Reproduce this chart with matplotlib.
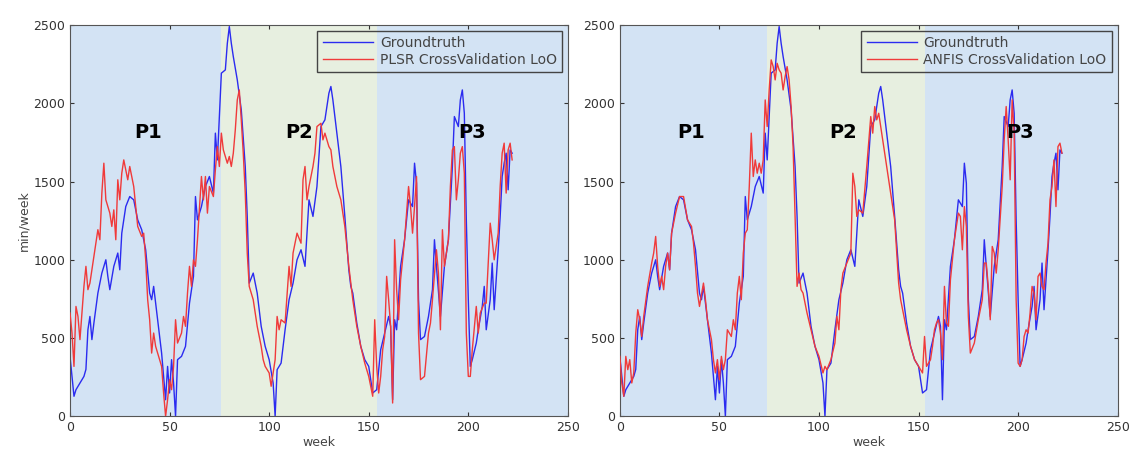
import matplotlib.pyplot as plt

# groundtruth (same in both panels)
gt_week = [0, 2, 3, 5, 7, 8, 9, 10, 11, 12, 14, 16, 18, 19, 20, 22, 24, 25, 26, 28,
           30, 32, 34, 36, 38, 40, 41, 42, 44, 46, 48, 49, 50, 51, 52, 53, 54, 56, 58, 60,
           62, 63, 64, 66, 68, 70, 72, 73, 74, 76, 78, 79, 80, 81, 82, 84, 86, 88, 89, 90,
           92, 94, 96, 98, 100, 102, 103, 104, 106, 108, 110, 112, 114, 116, 118, 120, 122, 124, 126, 128,
           130, 131, 132, 134, 136, 138, 140, 141, 142, 144, 146, 148, 150, 152, 154, 156, 158, 160, 161, 162,
           163, 164, 166, 168, 170, 172, 173, 174, 175, 176, 178, 180, 182, 183, 184, 186, 188, 190, 192, 193,
           195, 196, 197, 198, 199, 200, 201, 202, 204, 205, 207, 208, 209, 211, 212, 213, 215, 216, 217, 218,
           219, 220, 221, 222]
gt_val = [383, 128, 170, 213, 255, 300, 553, 638, 490, 596, 787, 915, 1000, 894, 809, 958, 1043, 936, 1170, 1340,
          1404, 1383, 1255, 1192, 1064, 787, 745, 830, 617, 404, 106, 319, 149, 362, 213, 0, 362, 383, 447, 723,
          894, 1404, 1255, 1340, 1468, 1532, 1426, 1809, 1638, 2192, 2213, 2383, 2490, 2383, 2298, 2149, 1958, 1596, 1277, 851,
          915, 787, 575, 447, 362, 213, 0, 298, 340, 553, 745, 851, 1000, 1064, 958, 1383, 1277, 1468, 1851, 1894,
          2064, 2107, 2021, 1809, 1596, 1277, 936, 830, 787, 596, 447, 362, 319, 149, 170, 425, 532, 638, 575, 106,
          617, 553, 958, 1128, 1383, 1340, 1617, 1489, 745, 490, 510, 638, 809, 1128, 958, 638, 958, 1128, 1596, 1915,
          1851, 2021, 2085, 1936, 1255, 745, 319, 362, 468, 553, 702, 830, 553, 745, 979, 681, 1064, 1277, 1532, 1617,
          1681, 1447, 1702, 1681]

# PLSR cross validation (left)
plsr_week = [0, 1, 2, 3, 4, 5, 7, 8, 9, 10, 12, 14, 15, 16, 17, 18, 20, 21, 22, 23,
             24, 25, 26, 27, 28, 29, 30, 32, 34, 36, 37, 38, 39, 40, 41, 42, 43, 44, 46, 47,
             48, 49, 50, 51, 52, 53, 54, 56, 57, 58, 59, 60, 61, 62, 63, 64, 66, 67, 68, 69,
             70, 72, 73, 74, 75, 76, 77, 78, 79, 80, 81, 82, 83, 84, 85, 86, 87, 88, 89, 90,
             92, 94, 96, 97, 98, 100, 101, 102, 103, 104, 105, 106, 108, 110, 111, 112, 114, 116, 117, 118,
             119, 120, 122, 123, 124, 126, 127, 128, 130, 131, 132, 134, 136, 138, 140, 142, 144, 146, 148, 150,
             152, 153, 154, 155, 156, 157, 158, 159, 160, 161, 162, 163, 164, 165, 166, 168, 170, 171, 172, 173,
             174, 175, 176, 178, 180, 181, 182, 184, 185, 186, 187, 188, 190, 191, 192, 193, 194, 195, 196, 197,
             198, 199, 200, 201, 202, 204, 205, 206, 208, 209, 210, 211, 212, 213, 214, 215, 216, 217, 218, 219,
             220, 221, 222]
plsr_val = [660, 532, 319, 702, 638, 490, 830, 958, 809, 851, 1021, 1192, 1128, 1426, 1617, 1383, 1298, 1213, 1319, 1128,
            1511, 1383, 1553, 1638, 1575, 1511, 1596, 1468, 1213, 1149, 1170, 1000, 745, 617, 404, 532, 447, 404, 319, 149,
            0, 106, 234, 170, 319, 617, 468, 532, 638, 575, 787, 958, 830, 1000, 958, 1128, 1532, 1383, 1532, 1298,
            1468, 1404, 1575, 1723, 1596, 1809, 1702, 1660, 1617, 1660, 1596, 1681, 1830, 2021, 2085, 1894, 1681, 1426, 1043, 830,
            745, 575, 447, 362, 319, 277, 192, 277, 362, 638, 553, 617, 596, 958, 830, 1043, 1170, 1106, 1511, 1596,
            1383, 1468, 1596, 1681, 1851, 1872, 1766, 1809, 1723, 1702, 1596, 1468, 1383, 1213, 958, 745, 575, 447, 340, 255,
            128, 617, 319, 149, 255, 425, 510, 894, 745, 575, 85, 1128, 809, 617, 872, 1128, 1468, 1340, 1170, 1340,
            1532, 532, 234, 255, 532, 596, 745, 1064, 915, 553, 1192, 958, 1128, 1468, 1702, 1723, 1383, 1511, 1681, 1723,
            1553, 532, 255, 255, 425, 702, 532, 660, 723, 723, 979, 1234, 1128, 1000, 1085, 1170, 1468, 1681, 1745, 1426,
            1702, 1745, 1638]

# ANFIS cross validation (right)
anfis_week = [0, 1, 2, 3, 4, 5, 6, 7, 8, 9, 10, 11, 12, 14, 16, 17, 18, 19, 20, 21,
              22, 23, 24, 25, 26, 28, 30, 32, 34, 36, 37, 38, 39, 40, 42, 43, 44, 46, 47, 48,
              49, 50, 51, 52, 53, 54, 56, 57, 58, 59, 60, 61, 62, 63, 64, 65, 66, 67, 68, 69,
              70, 71, 72, 73, 74, 75, 76, 77, 78, 79, 80, 81, 82, 83, 84, 85, 86, 87, 88, 89,
              90, 91, 92, 94, 96, 98, 100, 102, 103, 104, 106, 108, 109, 110, 111, 112, 114, 116, 117, 118,
              119, 120, 122, 124, 126, 127, 128, 129, 130, 132, 134, 136, 138, 140, 141, 142, 144, 146, 148, 150,
              152, 153, 154, 156, 157, 158, 159, 160, 161, 162, 163, 164, 165, 166, 168, 170, 171, 172, 173, 174,
              175, 176, 178, 180, 182, 183, 184, 185, 186, 187, 188, 189, 190, 192, 193, 194, 195, 196, 197, 198,
              199, 200, 201, 202, 203, 204, 205, 206, 207, 208, 209, 210, 211, 212, 213, 214, 215, 216, 217, 218,
              219, 220, 221, 222]
anfis_val = [383, 213, 128, 383, 298, 362, 213, 277, 532, 681, 617, 510, 638, 830, 979, 1043, 1149, 958, 830, 894,
             809, 958, 1043, 936, 1170, 1298, 1404, 1404, 1255, 1213, 1106, 958, 787, 702, 851, 745, 617, 490, 362, 277,
             362, 234, 383, 298, 362, 553, 510, 617, 553, 787, 894, 745, 1043, 1170, 1192, 1468, 1809, 1532, 1638, 1553,
             1617, 1553, 1638, 2021, 1851, 2085, 2277, 2234, 2149, 2255, 2213, 2192, 2085, 2170, 2234, 2149, 1979, 1723, 1277, 830,
             915, 809, 787, 660, 553, 447, 383, 277, 319, 298, 362, 468, 638, 553, 809, 915, 979, 1043, 1553, 1468,
             1277, 1319, 1298, 1596, 1915, 1809, 1979, 1894, 1936, 1766, 1596, 1426, 1255, 851, 745, 681, 553, 447, 362, 319,
             277, 510, 319, 362, 447, 553, 596, 617, 532, 362, 830, 596, 575, 872, 1128, 1298, 1277, 1064, 1340, 1213,
             638, 404, 468, 617, 745, 979, 979, 830, 617, 1085, 1043, 915, 1064, 1468, 1766, 1979, 1766, 1511, 2021, 1809,
             745, 340, 319, 362, 510, 553, 532, 660, 830, 787, 617, 894, 915, 830, 809, 979, 1106, 1383, 1468, 1638,
             1340, 1723, 1745, 1681]

panels = [
    dict(pred_week=plsr_week, pred_val=plsr_val, label='PLSR CrossValidation LoO',
         p2=(76, 154), tags=[(39, 'P1'), (115, 'P2'), (202, 'P3')], left=0.062),
    dict(pred_week=anfis_week, pred_val=anfis_val, label='ANFIS CrossValidation LoO',
         p2=(74, 153), tags=[(36, 'P1'), (112, 'P2'), (201, 'P3')], left=0.549),
]

blue_bg = '#d3e3f4'
green_bg = '#e7efe0'

fig = plt.figure(figsize=(11.29, 4.54), dpi=100)
for i, p in enumerate(panels):
    ax = fig.add_axes([p['left'], 0.083, 0.441, 0.862])
    ax.axvspan(0, p['p2'][0], color=blue_bg, lw=0, zorder=0)
    ax.axvspan(p['p2'][0], p['p2'][1], color=green_bg, lw=0, zorder=0)
    ax.axvspan(p['p2'][1], 250, color=blue_bg, lw=0, zorder=0)
    ax.plot(gt_week, gt_val, color='#2b2bf0', lw=1.0, label='Groundtruth', zorder=2)
    ax.plot(p['pred_week'], p['pred_val'], color='#f03a3a', lw=1.0, label=p['label'], zorder=3)
    for wk, t in p['tags']:
        ax.text(wk, 1810, t, fontsize=14, fontweight='bold', ha='center', va='center', zorder=4)
    ax.set_xlim(0, 250)
    ax.set_ylim(0, 2500)
    ax.set_xticks([0, 50, 100, 150, 200, 250])
    ax.set_yticks([0, 500, 1000, 1500, 2000, 2500])
    ax.tick_params(direction='in', top=True, right=True, labelsize=9, colors='#333333', length=3)
    for s in ax.spines.values():
        s.set_color('#555555')
    ax.set_xlabel('week', fontsize=9, color='#444444', labelpad=1)
    if i == 0:
        ax.set_ylabel('min/week', fontsize=9, color='#444444', labelpad=2)
    leg = ax.legend(loc='upper right', fontsize=10, fancybox=False, framealpha=1,
                    borderaxespad=0.4, handlelength=3.6, handletextpad=0.5, labelspacing=0.2)
    leg.get_frame().set_facecolor('none')
    leg.get_frame().set_edgecolor('#444444')
    for t in leg.get_texts():
        t.set_color('#444444')

fig.savefig('out.png', dpi=100)
